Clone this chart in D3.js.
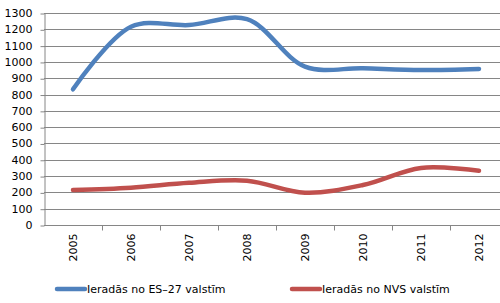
<!DOCTYPE html>
<html>
<head>
<meta charset="utf-8">
<script src="https://cdn.jsdelivr.net/npm/d3@7"></script>
<style>
  body { margin: 0; background: #fff; }
  svg { display: block; font-family: "DejaVu Sans", Verdana, sans-serif; }
</style>
</head>
<body>
<script>
// dati
const years = ['2005', '2006', '2007', '2008', '2009', '2010', '2011', '2012'];
const es27 = [832, 1216, 1226, 1262, 971, 961, 950, 957];
const nvs = [215, 229, 259, 272, 198, 245, 350, 333];
const seriesNames = ['Ieradās no ES\u201327 valstīm', 'Ieradās no NVS valstīm'];
const yTicks = d3.range(0, 1301, 100);

const width = 500, height = 303;
const colors = ['#4f81bd', '#c0504d'];

const svg = d3.select('body').append('svg')
    .attr('width', width)
    .attr('height', height);

const x = d3.scaleBand()
    .domain(years)
    .range([44, 508]);

const y = d3.scaleLinear()
    .domain([0, 1300])
    .range([225, 13]);

// horizontal grid
svg.append('g')
    .selectAll('line')
    .data(yTicks.filter(d => d > 0))
    .join('line')
    .attr('x1', 44).attr('x2', 508)
    .attr('y1', d => Math.round(y(d)) + 0.5)
    .attr('y2', d => Math.round(y(d)) + 0.5)
    .attr('stroke', '#868686')
    .attr('stroke-width', 1);

// y axis
const yAxis = svg.append('g')
    .attr('transform', 'translate(44.5,0)')
    .call(d3.axisLeft(y).tickValues(yTicks).tickFormat(d3.format('d'))
      .tickSize(4).tickSizeOuter(0).tickPadding(8));
yAxis.selectAll('.tick line').attr('transform', 'translate(0,0.5)');
yAxis.select('.domain').attr('stroke', '#868686');
yAxis.selectAll('.tick line').attr('stroke', '#868686');
yAxis.selectAll('text').attr('font-size', 11).attr('fill', '#000')
    .attr('font-family', '"DejaVu Sans", Verdana, sans-serif');

// x axis
const xAxis = svg.append('g')
    .attr('transform', `translate(0,${Math.round(y(0)) + 0.5})`);
xAxis.append('line')
    .attr('x1', 44).attr('x2', 508)
    .attr('stroke', '#868686');
xAxis.selectAll('line.tk')
    .data(years.slice(1))
    .join('line')
    .attr('class', 'tk')
    .attr('x1', d => Math.round(x(d)) + 0.5)
    .attr('x2', d => Math.round(x(d)) + 0.5)
    .attr('y1', 0).attr('y2', 5)
    .attr('stroke', '#868686');
xAxis.selectAll('text')
    .data(years)
    .join('text')
    .attr('transform', d => `translate(${x(d) + x.bandwidth() / 2 + 4},8) rotate(-90)`)
    .attr('text-anchor', 'end')
    .attr('font-size', 11)
    .text(d => d);

// lines
const line = d3.line()
    .x((d, i) => x(years[i]) + x.bandwidth() / 2)
    .y(d => y(d))
    .curve(d3.curveCatmullRom.alpha(0.5));

[es27, nvs].forEach((vals, k) => {
  svg.append('path')
      .datum(vals)
      .attr('fill', 'none')
      .attr('stroke', colors[k])
      .attr('stroke-width', 4.5)
      .attr('stroke-linecap', 'round')
      .attr('stroke-linejoin', 'round')
      .attr('d', line);
});

// legend
const legendX = [57, 292];
const legend = svg.append('g');
seriesNames.forEach((name, k) => {
  legend.append('line')
      .attr('x1', legendX[k]).attr('x2', legendX[k] + 28)
      .attr('y1', 289).attr('y2', 289)
      .attr('stroke', colors[k])
      .attr('stroke-width', 4.5)
      .attr('stroke-linecap', 'round');
  legend.append('text')
      .attr('x', legendX[k] + 30)
      .attr('y', 293)
      .attr('font-size', 11)
      .text(name);
});
</script>
</body>
</html>
